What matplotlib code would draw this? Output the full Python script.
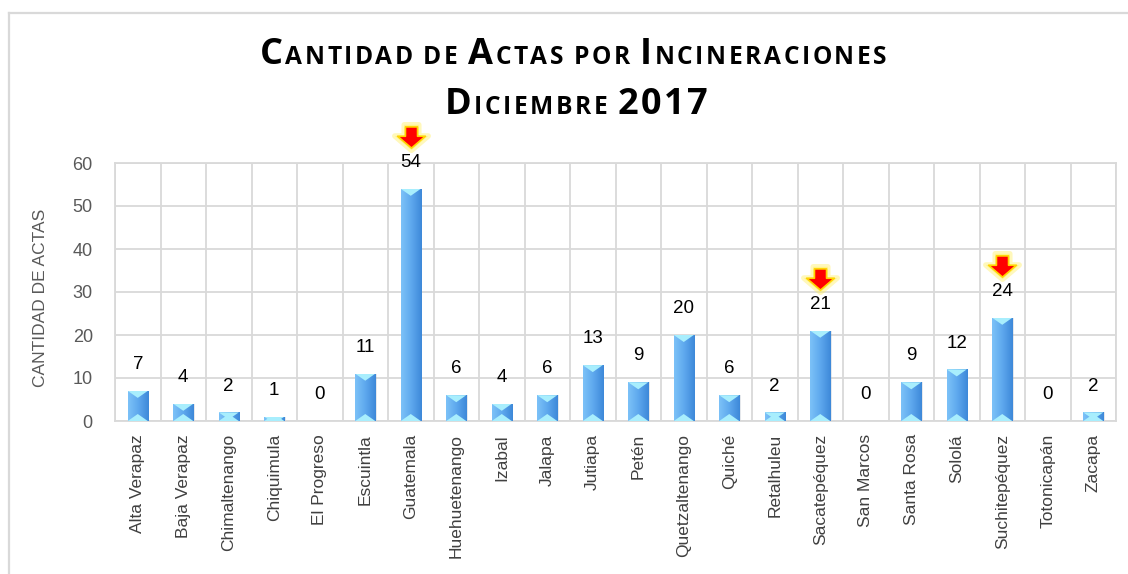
import matplotlib
matplotlib.use('Agg')
import matplotlib.pyplot as plt
import numpy as np
from matplotlib.path import Path
from matplotlib.patches import Rectangle, Polygon
from matplotlib.colors import LinearSegmentedColormap
import matplotlib.transforms as mtransforms
from matplotlib.lines import Line2D

categories = ['Alta Verapaz', 'Baja Verapaz', 'Chimaltenango', 'Chiquimula', 'El Progreso',
              'Escuintla', 'Guatemala', 'Huehuetenango', 'Izabal', 'Jalapa', 'Jutiapa',
              'Petén', 'Quetzaltenango', 'Quiché', 'Retalhuleu', 'Sacatepéquez',
              'San Marcos', 'Santa Rosa', 'Sololá', 'Suchitepéquez', 'Totonicapán', 'Zacapa']
values = [7, 4, 2, 1, 0, 11, 54, 6, 4, 6, 13, 9, 20, 6, 2, 21, 0, 9, 12, 24, 0, 2]
highlighted = ['Guatemala', 'Sacatepéquez', 'Suchitepéquez']
yticks = [0, 10, 20, 30, 40, 50, 60]
title1 = 'Cantidad de Actas por Incineraciones'
title2 = 'Diciembre 2017'
ylabel = 'CANTIDAD DE ACTAS'

W, H = 1128, 574
fig = plt.figure(figsize=(W / 100, H / 100), dpi=100)
ax = fig.add_axes([115 / W, 1 - 421 / H, (1116 - 115) / W, (421 - 163) / H])
ax.set_xlim(-0.5, len(categories) - 0.5)
ax.set_ylim(0, 60)

# figure border (top and left only)
fig.add_artist(Line2D([9 / W, 9 / W], [0, 1 - 13 / H], color='#d9d9d9', lw=1.6, transform=fig.transFigure))
fig.add_artist(Line2D([9 / W, 1], [1 - 13 / H, 1 - 13 / H], color='#d9d9d9', lw=1.6, transform=fig.transFigure))

x = np.arange(len(categories))
w = 0.44
bars = ax.bar(x, values, width=w, color='none', edgecolor='none', zorder=3)

cmap = LinearSegmentedColormap.from_list('b', ['#7cc2f8', '#5ea8ee', '#3d88d9'])
grad = np.linspace(0, 1, 64).reshape(1, -1)
px_per_unit = ax.get_window_extent().height / 60.0
d = 7.0 / px_per_unit
for rect in bars:
    h = rect.get_height()
    if h <= 0:
        continue
    x0 = rect.get_x()
    x1 = x0 + rect.get_width()
    xc = (x0 + x1) / 2
    sh = Rectangle((x0 + 0.03, 0), x1 - x0, h, color='#9aa7b5', alpha=0.25, zorder=2, lw=0)
    ax.add_patch(sh)
    im = ax.imshow(grad, extent=(x0, x1, 0, h), aspect='auto', cmap=cmap, zorder=3,
                   interpolation='bicubic')
    im.set_clip_path(rect)
    top = Polygon([(x0, h), (x1, h), (xc, h - d)], closed=True, color='#a8eefd', zorder=4, lw=0)
    ax.add_patch(top)
    top.set_clip_path(rect)
    bot = Polygon([(x0, 0), (x1, 0), (xc, d)], closed=True, color='#a8eefd', zorder=4, lw=0)
    ax.add_patch(bot)
    bot.set_clip_path(rect)

ax.set_xlim(-0.5, len(categories) - 0.5)
ax.set_ylim(0, 60)

# value labels
for xi, v in zip(x, values):
    ax.annotate(str(v), (xi, v), xytext=(0, 19), textcoords='offset points',
                ha='center', va='center', fontsize=13.5, family='Liberation Sans',
                color='black', zorder=6, annotation_clip=False)

# arrows
arrow = Path([(-0.24, 0.42), (0.24, 0.42), (0.24, 0.05), (0.55, 0.05), (0.0, -0.42),
              (-0.55, 0.05), (-0.24, 0.05), (-0.24, 0.42)], closed=True)
trans = ax.transData + mtransforms.ScaledTranslation(0, 37 / 72, fig.dpi_scale_trans)
for xi, (c, v) in enumerate(zip(categories, values)):
    if c in highlighted:
        ax.plot([xi], [v], marker=arrow, ms=24, color='#ffee33', mec='#ffee55', mew=4,
                alpha=0.4, transform=trans, clip_on=False, zorder=7)
        ax.plot([xi], [v], marker=arrow, ms=20, color='#ff0000', mec='#ffd400', mew=1.2,
                transform=trans, clip_on=False, zorder=8)

# grid and axes
ax.set_yticks(yticks)
ax.set_xticks(x)
ax.set_xticks(np.arange(-0.5, len(categories), 1), minor=True)
ax.grid(True, axis='y', color='#d9d9d9', lw=1.3, zorder=0)
ax.grid(True, axis='x', which='minor', color='#d9d9d9', lw=1.3, zorder=0)
ax.set_axisbelow(True)
for s in ax.spines.values():
    s.set_color('#d9d9d9')
    s.set_linewidth(1.3)
ax.tick_params(axis='both', which='both', length=0)
ax.tick_params(axis='y', pad=16, labelsize=13, labelcolor='#595959')
ax.tick_params(axis='x', pad=9.5, labelsize=12.5, labelcolor='#404040')
ax.set_xticklabels(categories, rotation=90, ha='center', va='top', family='Liberation Sans')
for t in ax.get_yticklabels():
    t.set_family('Liberation Sans')

fig.text(41 / W, 1 - 298 / H, ylabel, rotation=90, ha='center', va='center',
         fontsize=12.5, color='#595959', family='Liberation Sans')

# small caps title with letter tracking
renderer = fig.canvas.get_renderer()


def small_caps(text, xc_px, base_px, big, ratio=0.68, track=2.6, fam='Open Sans'):
    small = big * ratio
    p1 = fig.text(0, 0, 'I I', fontsize=big * 0.8, family=fam, weight='bold')
    p2 = fig.text(0, 0, 'II', fontsize=big * 0.8, family=fam, weight='bold')
    space_w = p1.get_window_extent(renderer).width - p2.get_window_extent(renderer).width
    p1.remove(); p2.remove()
    arts = []
    for ch in text:
        if ch == ' ':
            arts.append((None, space_w))
            continue
        sz = small if ch.islower() else big
        t = fig.text(0, 0, ch.upper(), fontsize=sz, family=fam, weight='bold',
                     va='baseline', ha='left')
        arts.append((t, t.get_window_extent(renderer).width + track))
    total = sum(wd for _, wd in arts) - track
    cur = xc_px - total / 2
    for t, wd in arts:
        if t is not None:
            t.set_position((cur / W, 1 - base_px / H))
        cur += wd


small_caps(title1, 573, 64, 26)
small_caps(title2, 576, 114, 26)

fig.savefig('out.png', dpi=100)
